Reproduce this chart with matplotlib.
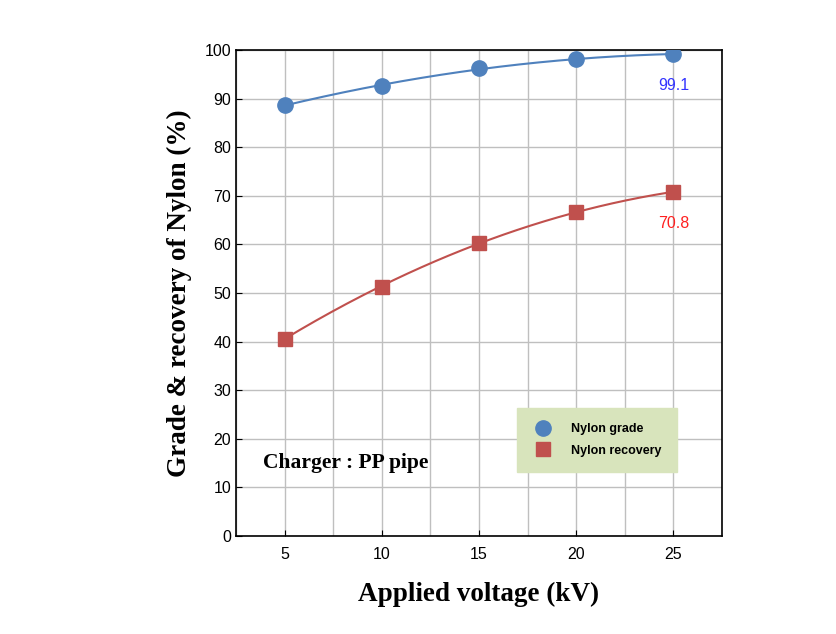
import numpy as np
import matplotlib
matplotlib.use("Agg")
import matplotlib.pyplot as plt

voltage = [5, 10, 15, 20, 25]
grade = [88.7, 92.5, 96.2, 98.2, 99.1]
recovery = [40.6, 51.3, 60.3, 66.6, 70.8]
xticks = [5, 10, 15, 20, 25]
yticks = [0, 10, 20, 30, 40, 50, 60, 70, 80, 90, 100]

blue = "#4f81bd"
red = "#c0504d"

fig = plt.figure(figsize=(8.36, 6.34), dpi=100)
ax = fig.add_axes([0.2823, 0.1546, 0.5813, 0.7666])

xs = np.linspace(min(voltage), max(voltage), 200)
pg = np.polyfit(voltage, grade, 2)
pr = np.polyfit(voltage, recovery, 2)
ax.plot(xs, np.polyval(pg, xs), color=blue, lw=1.5, zorder=3)
ax.plot(xs, np.polyval(pr, xs), color=red, lw=1.5, zorder=3)
ax.plot(voltage, grade, 'o', color=blue, ms=11, zorder=4, label="Nylon grade")
ax.plot(voltage, recovery, 's', color=red, ms=10, zorder=4, label="Nylon recovery")

ax.set_xlim(2.5, 27.5)
ax.set_ylim(0, 100)
ax.set_xticks(xticks)
ax.set_xticks(np.arange(2.5, 27.6, 2.5), minor=True)
ax.set_yticks(yticks)
ax.grid(True, which="both", color="#bfbfbf", lw=1)
ax.set_axisbelow(True)
ax.tick_params(axis="both", which="major", direction="in", length=4, labelsize=11.5, colors="black")
ax.tick_params(axis="x", which="minor", length=0)
for lab in ax.get_xticklabels() + ax.get_yticklabels():
    lab.set_fontfamily("Liberation Sans")
ax.tick_params(axis="x", pad=8)
for s in ax.spines.values():
    s.set_linewidth(1.2)

ax.set_xlabel("Applied voltage (kV)", fontfamily="Liberation Serif", fontweight="bold", fontsize=19.5, labelpad=14)
ax.set_ylabel("Grade & recovery of Nylon (%)", fontfamily="Liberation Serif", fontweight="bold", fontsize=19.5, labelpad=9)

ax.text(voltage[-1], grade[-1] - 6.5, "99.1", color="#3333ff", fontsize=11.5, ha="center", va="center", fontfamily="Liberation Sans")
ax.text(voltage[-1], recovery[-1] - 6.5, "70.8", color="#ff2020", fontsize=11.5, ha="center", va="center", fontfamily="Liberation Sans")
ax.text(3.9, 15, "Charger : PP pipe", fontfamily="Liberation Serif", fontweight="bold", fontsize=15.5, ha="left", va="center")

leg = ax.legend(loc="upper left", bbox_to_anchor=(0.579, 0.264), frameon=True, fancybox=False,
                facecolor="#d8e4bc", edgecolor="#d8e4bc", framealpha=1,
                prop={"family": "Liberation Sans", "weight": "bold", "size": 9},
                borderpad=1.25, handlelength=1.6, handletextpad=1.4, labelspacing=0.75, borderaxespad=0)

fig.savefig("out.png", dpi=100)
